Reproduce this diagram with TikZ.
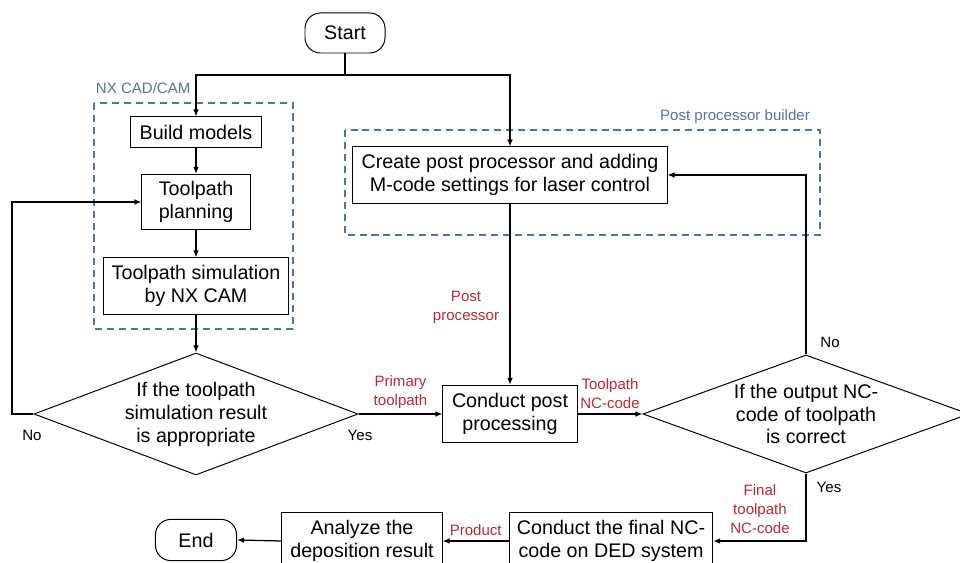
\documentclass[tikz,border=0pt]{standalone}
\usepackage{fontspec}
\setmainfont{Liberation Sans}
\usetikzlibrary{positioning, arrows.meta, shapes.geometric}
\definecolor{lblred}{RGB}{190,40,50}
\definecolor{grpblue}{RGB}{80,115,170}

\begin{document}
\begin{tikzpicture}[x=0.025cm, y=-0.025cm,
  font=\fontsize{14}{16.3}\selectfont,
  >={Latex[length=5pt,width=4pt]},
  box/.style={draw, line width=0.7pt, align=center, inner sep=0pt},
  term/.style={box, rounded corners=11pt},
  cond/.style={draw, diamond, aspect=2.65, line width=0.7pt, align=center, inner sep=0pt},
  flow/.style={->, line width=0.9pt},
  group/.style={draw=grpblue, dash pattern=on 5pt off 3.5pt, line width=0.9pt},
  grouplbl/.style={grpblue, font=\fontsize{10.7}{13}\selectfont},
  tag/.style={lblred, font=\fontsize{10.7}{13.5}\selectfont, align=center},
  ans/.style={font=\fontsize{10.7}{13}\selectfont}]

\useasboundingbox (0,0) rectangle (960,563);
\clip (0,0) rectangle (960,563);

% groups
\draw[group] (94,103) rectangle (293,329);
\node[grouplbl, anchor=west] (nxlbl) at (91,88) {NX CAD/CAM};
\draw[group] (345,130) rectangle (820,235);
\node[grouplbl] (ppblbl) at (735,117) {Post processor builder};

% steps
\node[term, minimum width=2cm, minimum height=1cm] (start) at (345,33) {Start};
\node[box, minimum width=3.28cm, minimum height=0.75cm] (build) at (196,132) {Build models};
\node[box, minimum width=2.7cm, minimum height=1.38cm] (plan) at (196,202) {Toolpath\\planning};
\node[box, minimum width=4.63cm, minimum height=1.4cm] (sim) at (196,286) {Toolpath simulation\\by NX CAM};
\node[cond, minimum width=8.1cm, minimum height=3.05cm] (check1) at (196,414) {If the toolpath\\simulation result\\is appropriate};
\node[box, minimum width=7.85cm, minimum height=1.4cm] (create) at (510,175) {Create post processor and adding\\M-code settings for laser control};
\node[box, minimum width=3.35cm, minimum height=1.43cm] (post) at (510,414) {Conduct post\\processing};
\node[cond, minimum width=8.15cm, minimum height=2.95cm] (check2) at (806,414) {If the output NC-\\code of toolpath\\is correct};
\node[box, minimum width=5.08cm, minimum height=1.45cm] (final) at (611,541) {Conduct the final NC-\\code on DED system};
\node[box, minimum width=4cm, minimum height=1.45cm] (analyze) at (362,541) {Analyze the\\deposition result};
\node[term, minimum width=2.03cm, minimum height=1.03cm] (end) at (196,540) {End};

\coordinate (split) at (345,75);
\coordinate (back) at (12,414);

% connectors
\draw[line width=0.9pt] (start.south) -- (split);
\draw[flow] (split) -| (build.north);
\draw[flow] (split) -| (create.north);
\draw[flow] (build) -- (plan);
\draw[flow] (plan) -- (sim);
\draw[flow] (sim) -- (check1);
\draw[flow] (check1.west) -- (back) |- (plan.west);
\draw[flow] (check1.east) -- (post.west) node[tag, midway, above] {Primary\\toolpath};
\draw[flow] (create.south) -- (post.north) node[tag, pos=0.57, left=4pt] {Post\\processor};
\draw[flow] (post.east) -- (check2.west) node[tag, midway, above] {Toolpath\\NC-code};
\draw[flow] (check2.north) |- (create.east);
\draw[flow] (check2.south) |- (final.east);
\draw[flow] (final.west) -- (analyze.east) node[tag, midway, above] {Product};
\draw[flow] (analyze.west) -- (end.east);

\node[ans] (no1) at (32,435) {No};
\node[ans] (yes1) at (360,435) {Yes};
\node[ans] (no2) at (830,342) {No};
\node[ans] (yes2) at (829,487) {Yes};
\node[tag] (finaltag) at (760,509) {Final\\toolpath\\NC-code};
\end{tikzpicture}
\end{document}
